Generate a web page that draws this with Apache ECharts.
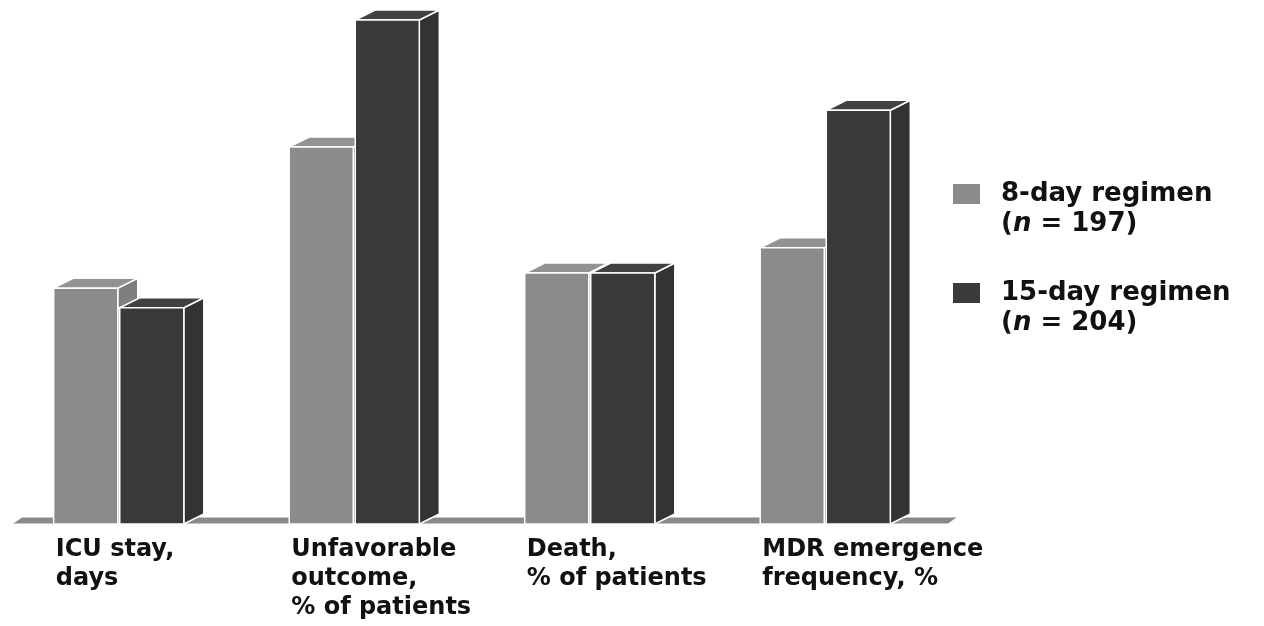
<!DOCTYPE html>
<html>
<head>
<meta charset="utf-8">
<script src="https://cdn.jsdelivr.net/npm/echarts@6/dist/echarts.min.js"></script>
<style>
html, body { margin: 0; padding: 0; background: #fff; }
#chart { width: 1264px; height: 626px; }
</style>
</head>
<body>
<div id="chart"></div>
<script>
var categories = ['ICU stay,\ndays', 'Unfavorable\noutcome,\n% of patients', 'Death,\n% of patients', 'MDR emergence\nfrequency, %'];
var seriesNames = ['8-day regimen', '15-day regimen'];
var sampleSizes = [197, 204];
// no value axis in the original, heights (tallest = 100)
var regimen8 = [46.8, 74.8, 49.8, 54.8];
var regimen15 = [42.9, 100, 49.8, 82.1];

var shades = [
    { front: '#8b8b8b', side: '#7e7e7e', top: '#929292' },
    { front: '#3a3a3a', side: '#333333', top: '#414141' }
];

var chart = echarts.init(document.getElementById('chart'));

// 3d looking bar: side face, top face, then the front
function barRenderer(k) {
    return function (params, api) {
        var cat = api.value(0);
        var base = api.coord([cat, 0]);
        var top = api.coord([cat, api.value(1)]);
        var w = api.size([1, 0])[0] * 0.272;
        var x0 = k === 0 ? base[0] - w - 1 : base[0] + 1;
        var x1 = x0 + w;
        var dx = 20, dy = 10;
        var c = shades[k];
        return {
            type: 'group',
            children: [{
                type: 'polygon',
                shape: { points: [[x1, top[1]], [x1 + dx, top[1] - dy], [x1 + dx, base[1] - dy], [x1, base[1]]] },
                style: { fill: c.side, stroke: '#fff', lineWidth: 1.5 }
            }, {
                type: 'polygon',
                shape: { points: [[x0, top[1]], [x0 + dx, top[1] - dy], [x1 + dx, top[1] - dy], [x1, top[1]]] },
                style: { fill: c.top, stroke: '#fff', lineWidth: 1.5 }
            }, {
                type: 'rect',
                shape: { x: x0, y: top[1], width: w, height: base[1] - top[1] },
                style: { fill: c.front, stroke: '#fff', lineWidth: 1.5 }
            }]
        };
    };
}

// floor strip under the bars
function floorRenderer(params, api) {
    var cs = params.coordSys;
    var by = cs.y + cs.height;
    var left = cs.x + 11, right = cs.x + cs.width + 5;
    return {
        type: 'polygon',
        shape: { points: [[left, by], [left + 10, by - 7], [right + 10, by - 7], [right, by]] },
        style: { fill: '#8a8a8a', stroke: '#fff', lineWidth: 1 }
    };
}

var labelFont = 'DejaVu Sans';

var option = {
    animation: false,
    backgroundColor: '#fff',
    grid: { left: 1, width: 942, top: 20, bottom: 102 },
    xAxis: {
        type: 'category',
        data: categories,
        axisLine: { show: false },
        axisTick: { show: false },
        axisLabel: {
            interval: 0,
            // fixed width box centred on the tick, lines left aligned inside it
            align: 'center',
            width: 126,
            overflow: 'none',
            verticalAlign: 'top',
            margin: 11,
            formatter: function (v) {
                return v.split('\n').map(function (l) { return '{a|' + l + '}'; }).join('\n');
            },
            rich: {
                a: { align: 'left', fontFamily: labelFont, fontWeight: 'bold', fontSize: 24, lineHeight: 29, color: '#111' }
            }
        }
    },
    yAxis: { type: 'value', min: 0, max: 100, show: false },
    legend: {
        orient: 'vertical',
        left: 953,
        top: 181,
        padding: 0,
        itemGap: 43,
        itemWidth: 27,
        itemHeight: 20,
        icon: 'rect',
        selectedMode: false,
        data: seriesNames,
        formatter: function (name) {
            var k = seriesNames.indexOf(name);
            return '{b|' + name + '}\n{b|(}{i|n}{b| = ' + sampleSizes[k] + ')}';
        },
        textStyle: {
            padding: [30, 0, 0, 16],
            rich: {
                b: { fontFamily: labelFont, fontWeight: 'bold', fontSize: 26, lineHeight: 30, color: '#111' },
                i: { fontFamily: labelFont, fontWeight: 'bold', fontStyle: 'italic', fontSize: 26, lineHeight: 30, color: '#111' }
            }
        }
    },
    series: [{
        type: 'custom',
        name: 'floor',
        z: 1,
        silent: true,
        renderItem: floorRenderer,
        data: [[0, 0]]
    }, {
        type: 'custom',
        name: seriesNames[0],
        z: 2,
        itemStyle: { color: shades[0].front },
        renderItem: barRenderer(0),
        data: regimen8.map(function (v, i) { return [i, v]; })
    }, {
        type: 'custom',
        name: seriesNames[1],
        z: 3,
        itemStyle: { color: shades[1].front },
        renderItem: barRenderer(1),
        data: regimen15.map(function (v, i) { return [i, v]; })
    }]
};

chart.setOption(option);
</script>
</body>
</html>
